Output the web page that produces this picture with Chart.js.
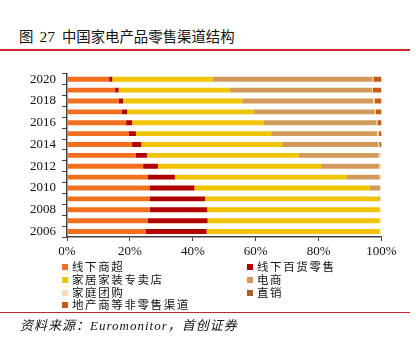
<!DOCTYPE html>
<html>
<head>
<meta charset="utf-8">
<script src="https://cdn.jsdelivr.net/npm/chart.js@4"></script>
<style>
  body { margin: 0; background: #fff; width: 416px; height: 347px; position: relative; overflow: hidden; }
  #title { position: absolute; left: 19px; top: 25px; font: 14.4px "Noto Sans CJK SC"; color: #111; white-space: nowrap; }
  #title .num { font-family: "Liberation Serif"; font-size: 15.5px; margin: 0 7px 0 6px; }
  .rule { position: absolute; left: 0; width: 410px; background: #c8282c; }
  #wrap { position: absolute; left: 0; top: 60px; width: 400px; height: 200px; }
  #legend { position: absolute; left: 62px; top: 258px; display: grid; grid-template-columns: 185px 150px; }
  #legend div { height: 12.8px; line-height: 13px; font: 11.5px "Noto Sans CJK SC"; letter-spacing: 1.6px; color: #111; white-space: nowrap; }
  #legend span { display: inline-block; width: 6px; height: 6px; margin-right: 4px; vertical-align: 1px; }
  #source { position: absolute; left: 20px; top: 315px; font: italic 13px "Liberation Serif", "Noto Sans CJK SC"; letter-spacing: 1px; color: #111; white-space: nowrap; }
</style>
</head>
<body>
<div id="title">图<span class="num">27</span>中国家电产品零售渠道结构</div>
<div class="rule" style="top:49px;height:2px"></div>
<div id="wrap"><canvas id="chart" width="400" height="200"></canvas></div>
<div id="legend"></div>
<div class="rule" style="top:312px;height:1px"></div>
<div id="source">资料来源：Euromonitor，首创证券</div>
<script>
const years = ['2006', '2007', '2008', '2009', '2010', '2011', '2012', '2013', '2014', '2015', '2016', '2017', '2018', '2019', '2020'];
const seriesNames = ['线下商超', '线下百货零售', '家居家装专卖店', '电商', '家庭团购', '直销', '地产商等非零售渠道'];
const seriesColors = ['#f07020', '#b00000', '#f0c400', '#d29a5a', '#f8dcb4', '#ac5e2c', '#c95a14'];

const supermarket = [25.1, 25.6, 26.3, 26.2, 26.2, 25.6, 24.2, 21.9, 20.7, 19.7, 18.8, 17.5, 16.5, 15.3, 13.4];
const deptStore   = [19.3, 19.1, 18.3, 17.7, 14.3, 8.7, 4.7, 3.5, 2.9, 2.2, 1.9, 1.6, 1.3, 1.1, 1.0];
const specialty   = [55.0, 54.7, 54.7, 55.1, 55.8, 54.6, 51.9, 48.3, 44.7, 43.0, 41.7, 40.3, 37.9, 35.4, 31.9];
const ecommerce   = [0.0, 0.0, 0.1, 0.5, 3.2, 10.5, 18.4, 25.4, 30.6, 33.7, 36.0, 38.5, 41.7, 45.2, 50.8];
const groupBuy    = [0.6, 0.6, 0.6, 0.5, 0.5, 0.6, 0.8, 0.9, 0.4, 0.5, 0.3, 0.3, 0.4, 0.3, 0.3];
const directSale  = [0.0, 0.0, 0.0, 0.0, 0.0, 0.0, 0.0, 0.0, 0.0, 0.0, 0.0, 0.0, 0.0, 0.0, 0.0];
const nonRetail   = [0.0, 0.0, 0.0, 0.0, 0.0, 0.0, 0.0, 0.0, 0.7, 0.9, 1.3, 1.8, 2.2, 2.7, 2.6];
const xTicks = [0, 20, 40, 60, 80, 100];

const seriesData = [supermarket, deptStore, specialty, ecommerce, groupBuy, directSale, nonRetail];

const legend = document.getElementById('legend');
seriesNames.forEach((name, i) => {
    const d = document.createElement('div');
    d.innerHTML = `<span style="background:${seriesColors[i]}"></span>${name}`;
    legend.appendChild(d);
});

const axisColor = '#404040';
const tickFont = { family: 'Liberation Serif', size: 13 };

new Chart(document.getElementById('chart').getContext('2d'), {
    type: 'bar',
    data: {
        labels: years,
        datasets: seriesNames.map((name, i) => ({
            label: name,
            data: seriesData[i],
            backgroundColor: seriesColors[i],
            borderWidth: 0,
            barPercentage: 0.45,
            categoryPercentage: 1
        }))
    },
    options: {
        indexAxis: 'y',
        responsive: false,
        animation: false,
        layout: { padding: { left: 0, right: 18.5, top: 10, bottom: 0 } },
        plugins: { legend: { display: false }, tooltip: { enabled: false } },
        scales: {
            x: {
                stacked: true,
                min: 0,
                max: 100,
                afterBuildTicks: (scale) => { scale.ticks = xTicks.map(v => ({ value: v })); },
                ticks: { callback: v => v + '%', color: '#111', font: tickFont, padding: 3, maxRotation: 0 },
                grid: { drawOnChartArea: false, tickLength: 4, color: axisColor },
                border: { color: axisColor, width: 1.5 },
                afterFit: (scale) => { scale.height = 23; }
            },
            y: {
                stacked: true,
                reverse: true,
                ticks: {
                    autoSkip: false,
                    color: '#111',
                    font: tickFont,
                    padding: 6,
                    callback: function (value) {
                        const label = this.getLabelForValue(value);
                        return Number(label) % 2 === 0 ? label : '';
                    }
                },
                grid: { drawOnChartArea: false, tickLength: 5, color: axisColor, offset: true },
                border: { color: axisColor, width: 1.5 },
                afterFit: (scale) => { scale.width = 67; }
            }
        }
    }
});
</script>
</body>
</html>
